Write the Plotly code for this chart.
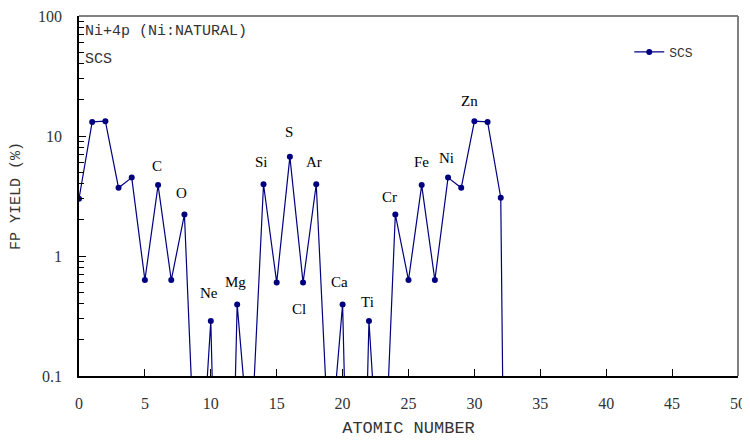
import numpy as np
import plotly.graph_objects as go

# Data
atomic_number = list(range(0, 34))
fp_yield = [3.0, 13.1, 13.3, 3.7, 4.5, 0.63, 3.9, 0.63, 2.22, 0.005,
            0.287, 1e-5, 0.395, 0.02, 3.96, 0.6, 6.7, 0.6, 3.96, 0.02,
            0.395, 1e-5, 0.287, 0.005, 2.22, 0.63, 3.9, 0.63, 4.5, 3.7,
            13.3, 13.1, 3.06, 1e-10]

element_names = ["C", "O", "Ne", "Mg", "Si", "S", "Cl", "Ar", "Ca", "Ti", "Cr", "Fe", "Ni", "Zn"]
element_x = [5.9, 7.79, 9.86, 11.84, 13.86, 15.93, 16.69, 17.85, 19.75, 21.91, 23.55, 25.95, 27.85, 29.6]
element_y = [5.6, 3.37, 0.494, 0.61, 6.1, 10.7, 0.36, 6.1, 0.61, 0.41, 3.12, 6.07, 6.5, 19.6]

x_ticks = [0, 5, 10, 15, 20, 25, 30, 35, 40, 45, 50]
y_ticks = [0.1, 1, 10, 100]
y_ticktext = ["0.1", "1", "10", "100"]
y_minor_ticks = [m * d for d in (0.1, 1, 10) for m in range(2, 10)]

NAVY = "#000080"
SERIF = "Liberation Serif"
MONO = "Liberation Mono"

fig = go.Figure()
fig.add_trace(go.Scatter(
    x=atomic_number, y=fp_yield, mode="lines+markers", name="SCS",
    line=dict(color=NAVY, width=1.2),
    marker=dict(color=NAVY, size=6, symbol="circle"),
))

annotations = []
for name, ex, ey in zip(element_names, element_x, element_y):
    annotations.append(dict(
        x=ex, y=np.log10(ey), xref="x", yref="y", text=name, showarrow=False,
        font=dict(family=SERIF, size=15, color="#000000"),
        xanchor="center", yanchor="middle",
    ))

annotations.append(dict(
    x=0.006, y=0.957, xref="paper", yref="paper", text="Ni+4p (Ni:NATURAL)",
    showarrow=False, xanchor="left", yanchor="middle",
    font=dict(family=MONO, size=15, color="#333333"),
))
annotations.append(dict(
    x=0.006, y=0.879, xref="paper", yref="paper", text="SCS",
    showarrow=False, xanchor="left", yanchor="middle",
    font=dict(family=MONO, size=15, color="#333333"),
))

# page body adds an 8px offset, so the figure is 742x436
fig.update_layout(
    width=742, height=436,
    margin=dict(l=71, r=12, t=8, b=68, autoexpand=False),
    paper_bgcolor="white", plot_bgcolor="white",
    showlegend=True,
    legend=dict(x=0.835, y=0.9, xanchor="left", yanchor="middle",
                bgcolor="rgba(0,0,0,0)", font=dict(family=MONO, size=13, color="#333333"),
                itemwidth=30),
    annotations=annotations,
    shapes=[
        dict(type="line", xref="paper", yref="paper", x0=0, x1=1, y0=1, y1=1,
             line=dict(color="#808080", width=2)),
        dict(type="line", xref="paper", yref="paper", x0=1, x1=1, y0=0, y1=1,
             line=dict(color="#808080", width=2)),
    ],
)

fig.update_xaxes(
    range=[0, 50], tickvals=x_ticks, ticks="inside", ticklen=7, tickwidth=1,
    tickcolor="#000000", showgrid=False, zeroline=False, automargin=False,
    showline=True, linecolor="#000000", linewidth=2,
    tickfont=dict(family=SERIF, size=16, color="#333333"),
    ticklabelstandoff=12, ticklabeloverflow="allow",
    title=dict(text="ATOMIC NUMBER", font=dict(family=MONO, size=17, color="#333333"), standoff=10),
)
fig.update_yaxes(
    type="log", range=[-1, 2], tickvals=y_ticks, ticktext=y_ticktext,
    ticks="inside", ticklen=7, tickwidth=1, tickcolor="#000000",
    minor=dict(ticks="inside", ticklen=5, tickwidth=1, tickcolor="#000000",
               tickvals=y_minor_ticks, showgrid=False),
    showgrid=False, zeroline=False, automargin=False,
    showline=True, linecolor="#000000", linewidth=1.5,
    tickfont=dict(family=SERIF, size=16, color="#333333"),
    ticklabelstandoff=12, ticklabeloverflow="allow",
    title=dict(text="FP YIELD (%)", font=dict(family=MONO, size=15, color="#333333"), standoff=14),
)

fig.write_html("out.html")
